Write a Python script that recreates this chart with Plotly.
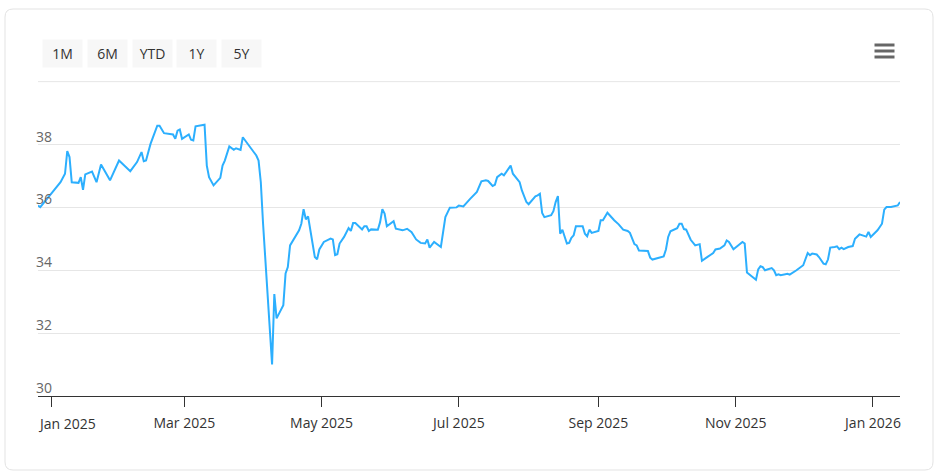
import plotly.graph_objects as go

# ── Data ─────────────────────────────────────────────────
DATES = [
    "2024-12-26", "2024-12-27", "2024-12-30", "2025-01-02", "2025-01-05",
    "2025-01-07", "2025-01-08", "2025-01-09", "2025-01-10", "2025-01-13",
    "2025-01-14", "2025-01-15", "2025-01-16", "2025-01-19", "2025-01-21",
    "2025-01-23", "2025-01-27", "2025-01-31", "2025-02-05", "2025-02-08",
    "2025-02-10", "2025-02-11", "2025-02-12", "2025-02-14", "2025-02-17",
    "2025-02-18", "2025-02-20", "2025-02-24", "2025-02-25", "2025-02-26",
    "2025-02-27", "2025-02-28", "2025-03-03", "2025-03-04", "2025-03-05",
    "2025-03-06", "2025-03-10", "2025-03-11", "2025-03-12", "2025-03-14",
    "2025-03-17", "2025-03-18", "2025-03-19", "2025-03-21", "2025-03-23",
    "2025-03-24", "2025-03-26", "2025-03-27", "2025-03-29", "2025-04-02",
    "2025-04-03", "2025-04-04", "2025-04-05", "2025-04-07", "2025-04-08",
    "2025-04-09", "2025-04-10", "2025-04-11", "2025-04-14", "2025-04-15",
    "2025-04-16", "2025-04-17", "2025-04-21", "2025-04-22", "2025-04-23",
    "2025-04-24", "2025-04-25", "2025-04-28", "2025-04-29", "2025-04-30",
    "2025-05-02", "2025-05-05", "2025-05-06", "2025-05-07", "2025-05-08",
    "2025-05-09", "2025-05-11", "2025-05-13", "2025-05-14", "2025-05-15",
    "2025-05-16", "2025-05-19", "2025-05-20", "2025-05-21", "2025-05-22",
    "2025-05-23", "2025-05-26", "2025-05-27", "2025-05-28", "2025-05-29",
    "2025-05-30", "2025-06-02", "2025-06-03", "2025-06-06", "2025-06-08",
    "2025-06-10", "2025-06-12", "2025-06-14", "2025-06-16", "2025-06-17",
    "2025-06-18", "2025-06-20", "2025-06-23", "2025-06-24", "2025-06-25",
    "2025-06-27", "2025-06-30", "2025-07-01", "2025-07-03", "2025-07-06",
    "2025-07-09", "2025-07-11", "2025-07-13", "2025-07-14", "2025-07-16",
    "2025-07-17", "2025-07-18", "2025-07-20", "2025-07-21", "2025-07-22",
    "2025-07-24", "2025-07-25", "2025-07-28", "2025-07-29", "2025-07-31",
    "2025-08-01", "2025-08-04", "2025-08-05", "2025-08-06", "2025-08-07",
    "2025-08-08", "2025-08-11", "2025-08-12", "2025-08-13", "2025-08-14",
    "2025-08-15", "2025-08-16", "2025-08-18", "2025-08-19", "2025-08-20",
    "2025-08-21", "2025-08-22", "2025-08-25", "2025-08-26", "2025-08-27",
    "2025-08-28", "2025-08-29", "2025-09-01", "2025-09-02", "2025-09-03",
    "2025-09-04", "2025-09-05", "2025-09-08", "2025-09-10", "2025-09-12",
    "2025-09-14", "2025-09-15", "2025-09-17", "2025-09-18", "2025-09-19",
    "2025-09-23", "2025-09-24", "2025-09-25", "2025-09-30", "2025-10-01",
    "2025-10-02", "2025-10-03", "2025-10-06", "2025-10-07", "2025-10-08",
    "2025-10-09", "2025-10-10", "2025-10-12", "2025-10-14", "2025-10-16",
    "2025-10-17", "2025-10-19", "2025-10-22", "2025-10-23", "2025-10-25",
    "2025-10-27", "2025-10-28", "2025-10-29", "2025-10-31", "2025-11-04",
    "2025-11-05", "2025-11-06", "2025-11-09", "2025-11-10", "2025-11-11",
    "2025-11-12", "2025-11-13", "2025-11-14", "2025-11-17", "2025-11-18",
    "2025-11-19", "2025-11-20", "2025-11-21", "2025-11-24", "2025-11-25",
    "2025-11-27", "2025-11-28", "2025-12-01", "2025-12-02", "2025-12-03",
    "2025-12-04", "2025-12-05", "2025-12-07", "2025-12-08", "2025-12-10",
    "2025-12-11", "2025-12-12", "2025-12-13", "2025-12-15", "2025-12-16",
    "2025-12-17", "2025-12-18", "2025-12-19", "2025-12-21", "2025-12-23",
    "2025-12-24", "2025-12-26", "2025-12-28", "2025-12-29", "2025-12-30",
    "2025-12-31", "2026-01-03", "2026-01-05", "2026-01-06", "2026-01-07",
    "2026-01-09", "2026-01-12", "2026-01-13",
]

CLOSE = [
    36.06, 36.01, 36.27, 36.54, 36.80,
    37.07, 37.79, 37.60, 36.80, 36.78,
    36.96, 36.56, 37.05, 37.14, 36.80,
    37.36, 36.86, 37.49, 37.15, 37.44,
    37.76, 37.47, 37.49, 38.02, 38.60,
    38.60, 38.36, 38.32, 38.18, 38.44,
    38.48, 38.18, 38.32, 38.15, 38.13,
    38.58, 38.63, 37.33, 36.96, 36.70,
    36.94, 37.33, 37.49, 37.94, 37.83,
    37.88, 37.83, 38.23, 38.04, 37.65,
    37.49, 36.80, 35.48, 33.37, 32.10,
    31.00, 33.24, 32.47, 32.89, 33.90,
    34.10, 34.79, 35.27, 35.48, 35.94,
    35.62, 35.71, 34.42, 34.35, 34.66,
    34.90, 35.01, 34.98, 34.48, 34.51,
    34.85, 35.06, 35.34, 35.25, 35.50,
    35.50, 35.30, 35.40, 35.40, 35.25,
    35.30, 35.29, 35.53, 35.94, 35.80,
    35.40, 35.56, 35.32, 35.27, 35.32,
    35.21, 34.98, 34.87, 34.85, 34.98,
    34.72, 34.90, 34.74, 35.16, 35.69,
    35.99, 36.00, 36.06, 36.03, 36.27,
    36.49, 36.83, 36.86, 36.84, 36.68,
    36.72, 36.96, 37.07, 37.02, 37.12,
    37.33, 37.07, 36.80, 36.54, 36.17,
    36.10, 36.35, 36.38, 36.43, 35.82,
    35.69, 35.75, 35.88, 36.17, 36.36,
    35.16, 35.29, 34.85, 34.87, 35.03,
    35.11, 35.40, 35.40, 35.16, 35.08,
    35.29, 35.19, 35.25, 35.59, 35.59,
    35.72, 35.83, 35.59, 35.46, 35.29,
    35.25, 35.19, 34.83, 34.79, 34.63,
    34.61, 34.40, 34.34, 34.44, 34.66,
    35.06, 35.24, 35.34, 35.48, 35.48,
    35.31, 35.29, 34.97, 34.79, 34.83,
    34.30, 34.40, 34.55, 34.66, 34.69,
    34.79, 34.95, 34.90, 34.67, 34.90,
    34.85, 33.93, 33.77, 33.70, 34.03,
    34.13, 34.10, 34.00, 34.07, 34.00,
    33.84, 33.87, 33.84, 33.89, 33.86,
    33.95, 34.00, 34.16, 34.37, 34.55,
    34.48, 34.53, 34.50, 34.42, 34.21,
    34.19, 34.34, 34.72, 34.74, 34.76,
    34.67, 34.72, 34.67, 34.74, 34.77,
    35.00, 35.14, 35.09, 35.07, 35.22,
    35.06, 35.27, 35.48, 35.93, 36.01,
    36.01, 36.06, 36.17,
]

Y_TICKS = [30, 32, 34, 36, 38, 40]
Y_TICK_TEXT = ["30", "32", "34", "36", "38", ""]   # top label hidden
X_TICKS = ["2025-01-01", "2025-03-01", "2025-05-01", "2025-07-01",
           "2025-09-01", "2025-11-01", "2026-01-01"]
X_TICK_TEXT = ["Jan 2025", "Mar 2025", "May 2025", "Jul 2025",
               "Sep 2025", "Nov 2025", "Jan 2026"]
RANGE_BUTTONS = ["1M", "6M", "YTD", "1Y", "5Y"]

FONT = "Open Sans, Noto Sans, sans-serif"
LINE_COLOR = "#2caffe"
GRID_COLOR = "#e6e6e6"

# ── Figure layout in pixels ──────────────────────────────
W, H = 940, 475
PLOT_L, PLOT_R, PLOT_T, PLOT_B = 38, 900, 81, 396


def px_x(px):
    return (px - PLOT_L) / (PLOT_R - PLOT_L)


def px_y(py):
    return (PLOT_B - py) / (PLOT_B - PLOT_T)


fig = go.Figure()

fig.add_trace(go.Scatter(
    x=DATES, y=CLOSE, mode="lines",
    line=dict(color=LINE_COLOR, width=2),
    hoverinfo="x+y", showlegend=False,
))

# ── Card border (rounded rectangle) ──────────────────────
x0, x1, y0, y1, r = 5, 933, 9, 470, 8
card_path = (
    f"M {px_x(x0 + r)},{px_y(y0)} L {px_x(x1 - r)},{px_y(y0)} "
    f"Q {px_x(x1)},{px_y(y0)} {px_x(x1)},{px_y(y0 + r)} "
    f"L {px_x(x1)},{px_y(y1 - r)} "
    f"Q {px_x(x1)},{px_y(y1)} {px_x(x1 - r)},{px_y(y1)} "
    f"L {px_x(x0 + r)},{px_y(y1)} "
    f"Q {px_x(x0)},{px_y(y1)} {px_x(x0)},{px_y(y1 - r)} "
    f"L {px_x(x0)},{px_y(y0 + r)} "
    f"Q {px_x(x0)},{px_y(y0)} {px_x(x0 + r)},{px_y(y0)} Z"
)
fig.add_shape(type="path", path=card_path, xref="paper", yref="paper",
              line=dict(color="#e3e3e3", width=1), layer="below")

# top grid line (plotly skips the one sitting on the plot edge)
fig.add_shape(type="line", xref="paper", yref="y",
              x0=0, x1=1, y0=Y_TICKS[-1], y1=Y_TICKS[-1],
              line=dict(color=GRID_COLOR, width=1), layer="below")

# ── Range selector buttons (decorative) ─────────────────
for i, label in enumerate(RANGE_BUTTONS):
    cx = 62.5 + i * 44.8
    fig.add_annotation(
        x=px_x(cx), y=px_y(53.5), xref="paper", yref="paper",
        text=label, showarrow=False,
        font=dict(family=FONT, size=14, color="#333333"),
        bgcolor="#f7f7f7", width=35, height=23, borderpad=2,
        xanchor="center", yanchor="middle",
    )

# ── Hamburger menu icon ──────────────────────────────────
for by in (45, 51, 57):
    fig.add_shape(type="rect", xref="paper", yref="paper",
                  x0=px_x(874.5), x1=px_x(894.5),
                  y0=px_y(by - 1.5), y1=px_y(by + 1.5),
                  line=dict(width=0), fillcolor="#666666")

# ── Y labels sit inside the plot, just above each grid line ──
for val, txt in zip(Y_TICKS, Y_TICK_TEXT):
    if txt:
        fig.add_annotation(
            x=0, xref="paper", y=val, yref="y", text=txt,
            showarrow=False, xanchor="left", yanchor="bottom",
            xshift=-4, yshift=-3,
            font=dict(family=FONT, size=14, color="#666666"),
        )

# first x label is pushed right so it stays inside the plot (like the source)
fig.add_annotation(
    x=X_TICKS[0], xref="x", y=0, yref="paper", text=X_TICK_TEXT[0],
    showarrow=False, xanchor="left", yanchor="top",
    xshift=-16, yshift=-16,
    font=dict(family=FONT, size=14, color="#333333"),
)

fig.update_layout(
    width=W, height=H,
    margin=dict(l=PLOT_L, r=W - PLOT_R, t=PLOT_T, b=H - PLOT_B),
    paper_bgcolor="white", plot_bgcolor="white",
    font=dict(family=FONT, size=14, color="#333333"),
    hovermode="x",
)

fig.update_xaxes(
    type="date",
    range=[DATES[0], DATES[-1]],
    tickmode="array", tickvals=X_TICKS, ticktext=[""] + X_TICK_TEXT[1:],
    showgrid=False, zeroline=False,
    showline=True, linecolor="#333333", linewidth=1,
    ticks="outside", ticklen=10, tickcolor="#333333", tickwidth=1,
    ticklabelstandoff=4,
    tickfont=dict(family=FONT, size=14, color="#333333"),
)

fig.update_yaxes(
    range=[30, 40.02],
    tickmode="array", tickvals=Y_TICKS,
    showticklabels=False,
    showgrid=True, gridcolor=GRID_COLOR, gridwidth=1,
    zeroline=False, showline=False, ticks="",
)

# page body has an 8px default margin; drop it so the figure sits at 0,0
fig.write_html("out.html", config={"displayModeBar": False},
               post_script="document.body.style.margin='0';")
